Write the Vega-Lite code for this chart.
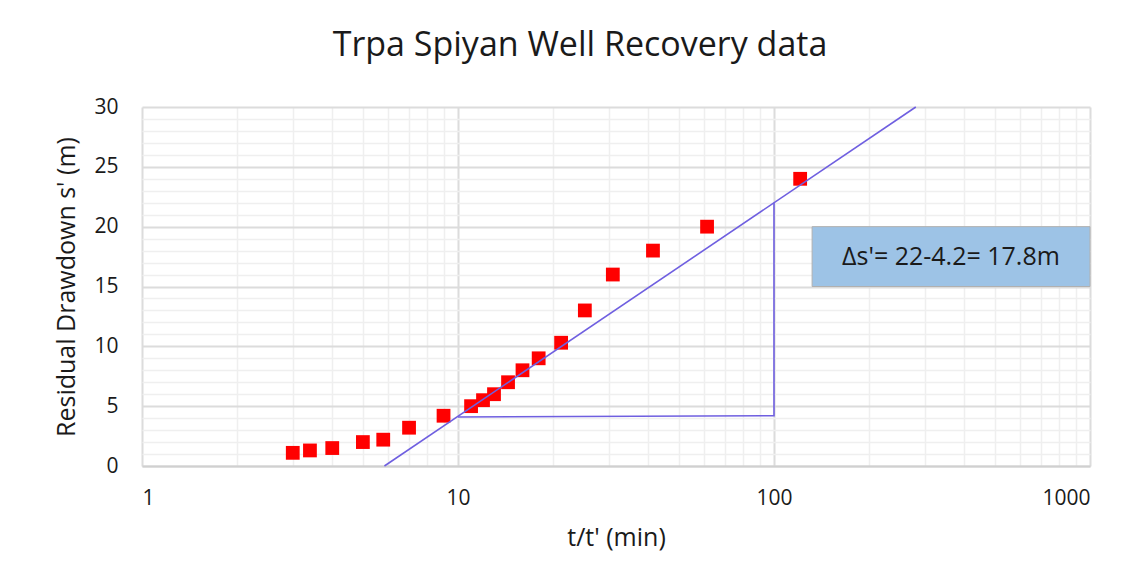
{
  "$schema": "https://vega.github.io/schema/vega-lite/v6.json",
  "autosize": "none",
  "width": 948,
  "height": 359,
  "padding": {"left": 142, "top": 107, "right": 50, "bottom": 117},
  "background": "white",
  "title": {
    "text": "Trpa Spiyan Well Recovery data",
    "font": "Open Sans",
    "fontSize": 34,
    "fontWeight": "normal",
    "color": "#1a1a1a",
    "anchor": "middle",
    "baseline": "alphabetic",
    "dx": -36,
    "offset": 6
  },
  "config": {
    "view": {"stroke": null},
    "font": "Open Sans"
  },
  "datasets": {
    "obs": [
      {"t": 3.0, "s": 1.1}, {"t": 3.4, "s": 1.3}, {"t": 4.0, "s": 1.5},
      {"t": 5.0, "s": 2.0}, {"t": 5.8, "s": 2.2}, {"t": 7.0, "s": 3.2},
      {"t": 9.0, "s": 4.2}, {"t": 11.0, "s": 5.0}, {"t": 12.0, "s": 5.5},
      {"t": 13.0, "s": 6.0}, {"t": 14.4, "s": 7.0}, {"t": 16.0, "s": 8.0},
      {"t": 18.0, "s": 9.0}, {"t": 21.2, "s": 10.3}, {"t": 25.2, "s": 13.0},
      {"t": 30.9, "s": 16.0}, {"t": 41.4, "s": 18.0}, {"t": 61.4, "s": 20.0},
      {"t": 121.0, "s": 24.0}
    ],
    "fit": [{"t": 5.85, "s": 0, "k": 1}, {"t": 281, "s": 30, "k": 2}],
    "tri": [{"t": 10, "s": 4.1, "k": 1}, {"t": 100, "s": 4.2, "k": 2}, {"t": 100, "s": 22, "k": 3}],
    "box": [{"t1": 132, "t2": 1000, "s1": 15, "s2": 20, "tm": 363, "sm": 17.5, "label": "Δs'= 22-4.2= 17.8m"}]
  },
  "layer": [
    {
      "data": {"name": "obs"},
      "mark": {"type": "square", "size": 190, "color": "#FF0000", "opacity": 1, "filled": true},
      "encoding": {
        "x": {
          "field": "t", "type": "quantitative",
          "scale": {"type": "log", "domain": [1, 1000], "nice": false},
          "axis": {
            "title": "t/t' (min)",
            "titleFont": "Open Sans", "titleFontSize": 25, "titleFontWeight": "normal", "titleColor": "#1a1a1a",
            "titlePadding": 17,
            "values": [1,2,3,4,5,6,7,8,9,10,20,30,40,50,60,70,80,90,100,200,300,400,500,600,700,800,900,1000],
            "tickCount": 200,
            "format": "d",
            "labelExpr": "indexof([1,10,100,1000], datum.value) >= 0 ? datum.label : ''",
            "labelOverlap": false,
            "labelFont": "Open Sans", "labelFontSize": 21, "labelColor": "#1a1a1a", "labelPadding": 21,
            "ticks": false,
            "domainColor": "#d0d0d0", "domainWidth": 2,
            "grid": true,
            "gridColor": {"condition": {"test": "indexof([1,10,100,1000], datum.value) >= 0", "value": "#dcdcdc"}, "value": "#efefef"},
            "gridWidth": {"condition": {"test": "indexof([1,10,100,1000], datum.value) >= 0", "value": 2}, "value": 1.5}
          }
        },
        "y": {
          "field": "s", "type": "quantitative",
          "scale": {"domain": [0, 30], "nice": false},
          "axis": {
            "title": "Residual Drawdown s' (m)",
            "titleFont": "Open Sans", "titleFontSize": 25, "titleFontWeight": "normal", "titleColor": "#1a1a1a",
            "titlePadding": 14,
            "values": [0,1,2,3,4,5,6,7,8,9,10,11,12,13,14,15,16,17,18,19,20,21,22,23,24,25,26,27,28,29,30],
            "tickCount": 200,
            "format": "d",
            "labelExpr": "datum.value % 5 == 0 ? datum.label : ''",
            "labelOverlap": false,
            "labelFont": "Open Sans", "labelFontSize": 21, "labelColor": "#1a1a1a", "labelPadding": 24,
            "ticks": false,
            "domain": false,
            "grid": true,
            "gridColor": {"condition": {"test": "datum.value % 5 == 0", "value": "#dcdcdc"}, "value": "#efefef"},
            "gridWidth": {"condition": {"test": "datum.value % 5 == 0", "value": 2}, "value": 1.5}
          }
        }
      }
    },
    {
      "data": {"name": "fit"},
      "mark": {"type": "line", "color": "#6f5fe0", "strokeWidth": 1.6},
      "encoding": {
        "x": {"field": "t", "type": "quantitative"},
        "y": {"field": "s", "type": "quantitative"},
        "order": {"field": "k"}
      }
    },
    {
      "data": {"name": "tri"},
      "mark": {"type": "line", "color": "#6f5fe0", "strokeWidth": 1.6},
      "encoding": {
        "x": {"field": "t", "type": "quantitative"},
        "y": {"field": "s", "type": "quantitative"},
        "order": {"field": "k"}
      }
    },
    {
      "data": {"name": "box"},
      "mark": {"type": "rect", "fill": "#9dc3e6", "stroke": "#b0b0b0", "strokeWidth": 1},
      "encoding": {
        "x": {"field": "t1", "type": "quantitative"},
        "x2": {"field": "t2"},
        "y": {"field": "s1", "type": "quantitative"},
        "y2": {"field": "s2"}
      }
    },
    {
      "data": {"name": "box"},
      "mark": {"type": "text", "font": "Open Sans", "fontSize": 25, "color": "#1a1a1a", "align": "center", "baseline": "middle"},
      "encoding": {
        "x": {"field": "tm", "type": "quantitative"},
        "y": {"field": "sm", "type": "quantitative"},
        "text": {"field": "label"}
      }
    }
  ]
}
